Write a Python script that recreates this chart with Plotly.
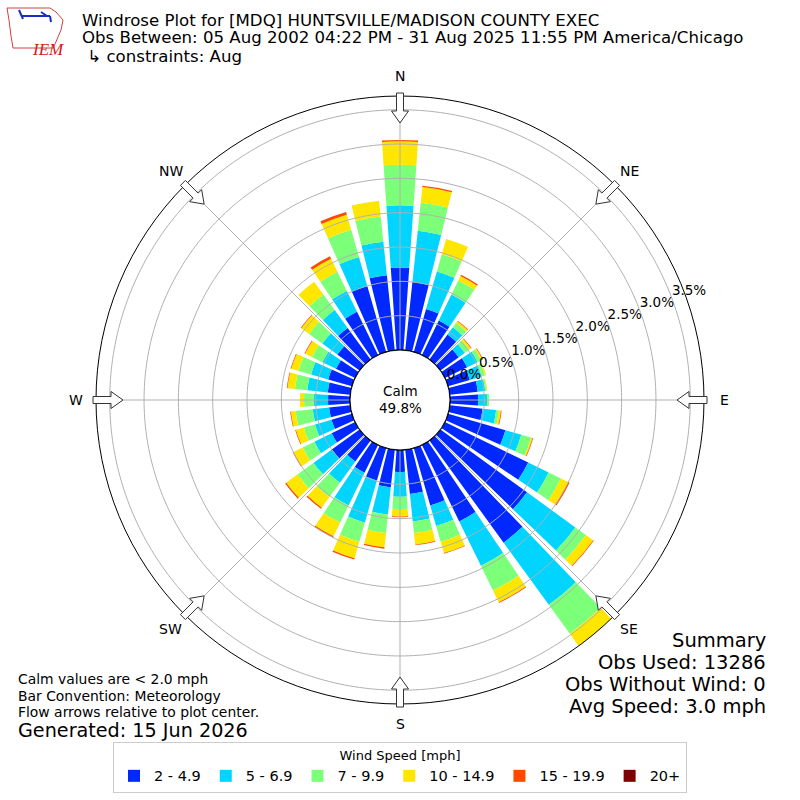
import numpy as np
import plotly.graph_objects as go

ANCHO = 800
ALTO = 800
CX, CY = 400, 400          # centro del grafico polar (px)
R_EXT = 304                # radio del circulo exterior (px)
R_CALMA = 50               # radio del circulo de calma (px)
R_MAX = 3.70               # limite del eje radial (%)

# Direcciones (grados, convencion meteorologica)
DIRECCIONES = list(range(0, 360, 10))

# Frecuencia (%) de cada rango de velocidad por direccion
VEL_2_5 = [1.20, 1.00, 0.65, 0.56, 0.45, 0.33, 0.36, 0.33, 0.41, 0.41,
           0.48, 0.87, 1.35, 1.56, 1.84, 1.24, 0.87, 0.65, 0.32, 0.55,
           0.49, 0.45, 0.38, 0.50, 0.38, 0.31, 0.31, 0.32, 0.33, 0.36,
           0.31, 0.40, 0.57, 0.70, 1.00, 1.10]
VEL_5_7 = [0.91, 0.75, 0.57, 0.42, 0.13, 0.11, 0.17, 0.18, 0.11, 0.13,
           0.20, 0.24, 0.33, 0.87, 1.12, 0.72, 0.31, 0.40, 0.36, 0.40,
           0.64, 0.53, 0.38, 0.33, 0.28, 0.25, 0.24, 0.21, 0.30, 0.26,
           0.22, 0.27, 0.32, 0.34, 0.44, 0.49]
VEL_7_10 = [0.59, 0.41, 0.26, 0.23, 0.08, 0.08, 0.06, 0.05, 0.02, 0.03,
            0.04, 0.15, 0.20, 0.19, 0.52, 0.40, 0.24, 0.17, 0.18, 0.27,
            0.29, 0.28, 0.26, 0.29, 0.19, 0.17, 0.25, 0.14, 0.18, 0.19,
            0.17, 0.24, 0.28, 0.31, 0.41, 0.37]
VEL_10_15 = [0.34, 0.23, 0.23, 0.07, 0.03, 0.03, 0.02, 0.02, 0.01, 0.00,
             0.03, 0.02, 0.12, 0.13, 0.22, 0.19, 0.17, 0.17, 0.11, 0.21,
             0.25, 0.22, 0.19, 0.20, 0.15, 0.12, 0.07, 0.06, 0.11, 0.11,
             0.11, 0.14, 0.23, 0.21, 0.23, 0.23]
VEL_15_20 = [0.02, 0.02, 0.00, 0.02, 0.01, 0.01, 0.01, 0.00, 0.00, 0.00,
             0.01, 0.01, 0.02, 0.01, 0.00, 0.01, 0.01, 0.01, 0.01, 0.02,
             0.02, 0.02, 0.02, 0.02, 0.01, 0.01, 0.01, 0.00, 0.01, 0.01,
             0.01, 0.01, 0.00, 0.04, 0.04, 0.00]
VEL_20 = [0.00, 0.00, 0.00, 0.00, 0.00, 0.00, 0.00, 0.00, 0.00, 0.00,
          0.00, 0.00, 0.00, 0.00, 0.00, 0.00, 0.00, 0.00, 0.00, 0.00,
          0.00, 0.00, 0.00, 0.00, 0.00, 0.00, 0.00, 0.00, 0.00, 0.00,
          0.00, 0.00, 0.00, 0.00, 0.00, 0.00]

RANGOS = ['2 - 4.9', '5 - 6.9', '7 - 9.9', '10 - 14.9', '15 - 19.9', '20+']
COLORES = ['#0028ff', '#00d4ff', '#7cff79', '#ffe600', '#ff4800', '#800000']

RADIAL_TICKS = [0.0, 0.5, 1.0, 1.5, 2.0, 2.5, 3.0, 3.5]
RADIAL_LABELS = ['0.0%', '0.5%', '1.0%', '1.5%', '2.0%', '2.5%', '3.0%', '3.5%']
PUNTOS_CARDINALES = ['N', 'NE', 'E', 'SE', 'S', 'SW', 'W', 'NW']
ANGULOS_CARDINALES = [0, 45, 90, 135, 180, 225, 270, 315]

CALMA = '49.8%'
COLOR_GRILLA = '#b0b0b0'
FUENTE = 'DejaVu Sans'
ANGULO_ETIQUETAS = 69.5          # rumbo de las etiquetas radiales


def px_a_paper(x, y):
    return x / ANCHO, 1 - y / ALTO


fig = go.Figure()

# Barras apiladas
for valores, nombre, color in zip([VEL_2_5, VEL_5_7, VEL_7_10, VEL_10_15, VEL_15_20, VEL_20],
                                  RANGOS, COLORES):
    fig.add_trace(go.Barpolar(
        r=valores,
        theta=DIRECCIONES,
        width=8,
        name=nombre,
        marker=dict(color=color, line=dict(width=0)),
        hoverinfo='skip'
    ))

# Grilla por encima de las barras
circulo = np.arange(0, 361, 1)
for v in RADIAL_TICKS[1:]:
    fig.add_trace(go.Scatterpolar(
        r=[v] * len(circulo), theta=circulo, mode='lines',
        line=dict(color=COLOR_GRILLA, width=1),
        showlegend=False, hoverinfo='skip'
    ))
for a in ANGULOS_CARDINALES:
    fig.add_trace(go.Scatterpolar(
        r=[0, R_MAX], theta=[a, a], mode='lines',
        line=dict(color=COLOR_GRILLA, width=1),
        showlegend=False, hoverinfo='skip'
    ))

# Circulo de calma
fig.add_trace(go.Scatterpolar(
    r=[0] * len(circulo), theta=circulo, mode='lines',
    line=dict(color='black', width=1.2),
    showlegend=False, hoverinfo='skip'
))

# Etiquetas radiales
fig.add_trace(go.Scatterpolar(
    r=RADIAL_TICKS,
    theta=[ANGULO_ETIQUETAS] * len(RADIAL_TICKS), mode='text',
    text=RADIAL_LABELS, textposition='top right',
    textfont=dict(size=13.5, color='black', family=FUENTE),
    showlegend=False, hoverinfo='skip', cliponaxis=False
))

fig.update_layout(
    width=ANCHO, height=ALTO,
    margin=dict(l=0, r=0, t=0, b=0),
    paper_bgcolor='white',
    font=dict(family=FUENTE, color='black', size=13),
    polar=dict(
        domain=dict(x=[(CX - R_EXT) / ANCHO, (CX + R_EXT) / ANCHO],
                    y=[(CY - R_EXT) / ALTO, (CY + R_EXT) / ALTO]),
        hole=R_CALMA / R_EXT,
        bgcolor='white',
        barmode='stack',
        radialaxis=dict(range=[0, R_MAX], showgrid=False, showline=False,
                        showticklabels=False, ticks=''),
        angularaxis=dict(direction='clockwise', rotation=90, showgrid=False,
                         showticklabels=False, ticks='', showline=True,
                         linecolor='black', linewidth=1)
    ),
    legend=dict(
        orientation='h', x=0.5, xanchor='center', y=1 - 742 / ALTO, yanchor='top',
        bgcolor='white', bordercolor='#cccccc', borderwidth=1,
        title=dict(text='Wind Speed [mph]', side='top center', font=dict(size=13)),
        font=dict(size=14.5), itemwidth=30
    )
)

anotaciones = []
formas = []

# Puntos cardinales y flechas de flujo
for nombre, a in zip(PUNTOS_CARDINALES, ANGULOS_CARDINALES):
    rad = np.radians(a)
    dx, dy = np.sin(rad), -np.cos(rad)
    x, y = px_a_paper(CX + 324 * dx, CY + 324 * dy)
    anotaciones.append(dict(x=x, y=y, xref='paper', yref='paper', text=nombre,
                            showarrow=False, xanchor='center', yanchor='middle',
                            font=dict(size=14)))
    px_, py_ = np.cos(rad), np.sin(rad)
    cola = 307
    contorno = [(0, -3.5), (18, -3.5), (18, -8.5), (30, 0), (18, 8.5), (18, 3.5), (0, 3.5)]
    pts = []
    for u, v in contorno:
        xx = CX + (cola - u) * dx + v * px_
        yy = CY + (cola - u) * dy + v * py_
        pts.append(px_a_paper(xx, yy))
    path = 'M ' + ' L '.join(f'{p[0]:.5f},{p[1]:.5f}' for p in pts) + ' Z'
    formas.append(dict(type='path', path=path, xref='paper', yref='paper',
                       fillcolor='white', line=dict(color='#333333', width=1)))

# Texto de calma
anotaciones.append(dict(x=0.5, y=px_a_paper(0, 391)[1], xref='paper', yref='paper',
                        text='Calm', showarrow=False, font=dict(size=13.5)))
anotaciones.append(dict(x=0.5, y=px_a_paper(0, 408)[1], xref='paper', yref='paper',
                        text=CALMA, showarrow=False, font=dict(size=13.5)))

# Titulo
titulos = ['Windrose Plot for [MDQ] HUNTSVILLE/MADISON COUNTY EXEC',
           'Obs Between: 05 Aug 2002 04:22 PM - 31 Aug 2025 11:55 PM America/Chicago',
           ' ↳ constraints: Aug']
for i, t in enumerate(titulos):
    anotaciones.append(dict(x=80 / ANCHO, y=px_a_paper(0, 20 + 18 * i)[1], xref='paper',
                            yref='paper', text=t, showarrow=False, xanchor='left',
                            yanchor='middle', font=dict(size=16.6)))

# Notas abajo a la izquierda
notas = ['Calm values are < 2.0 mph', 'Bar Convention: Meteorology',
         'Flow arrows relative to plot center.']
for i, t in enumerate(notas):
    anotaciones.append(dict(x=16 / ANCHO, y=px_a_paper(0, 679 + 16.5 * i)[1], xref='paper',
                            yref='paper', text=t, showarrow=False, xanchor='left',
                            yanchor='middle', font=dict(size=13.9)))
anotaciones.append(dict(x=16 / ANCHO, y=px_a_paper(0, 730)[1], xref='paper', yref='paper',
                        text='Generated: 15 Jun 2026', showarrow=False, xanchor='left',
                        yanchor='middle', font=dict(size=19.2)))

# Resumen abajo a la derecha
resumen = ['Summary', 'Obs Used: 13286', 'Obs Without Wind: 0', 'Avg Speed: 3.0 mph']
for i, t in enumerate(resumen):
    anotaciones.append(dict(x=768 / ANCHO, y=px_a_paper(0, 640 + 22 * i)[1], xref='paper',
                            yref='paper', text=t, showarrow=False, xanchor='right',
                            yanchor='middle', font=dict(size=19.5)))

# Logo IEM aproximado
contorno_iowa = [(7, 8), (50, 8), (56, 12), (63, 20), (61, 30), (58, 37), (55, 44),
                 (53, 48), (13, 48), (11, 36), (9, 20)]
path = 'M ' + ' L '.join('{:.5f},{:.5f}'.format(*px_a_paper(x, y)) for x, y in contorno_iowa) + ' Z'
formas.append(dict(type='path', path=path, xref='paper', yref='paper',
                   line=dict(color='#d04040', width=1)))
simbolo = [((22, 16), (50, 16)), ((19, 10), (23, 19)), ((41, 12), (47, 16)),
           ((50, 16), (51, 22))]
for (xa, ya), (xb, yb) in simbolo:
    x0, y0 = px_a_paper(xa, ya)
    x1, y1 = px_a_paper(xb, yb)
    formas.append(dict(type='line', x0=x0, y0=y0, x1=x1, y1=y1, xref='paper', yref='paper',
                       line=dict(color='#1a2fbf', width=2)))
anotaciones.append(dict(x=30 / ANCHO, y=px_a_paper(0, 38)[1], xref='paper', yref='paper',
                        text='<i>IEM</i>', showarrow=False,
                        font=dict(size=17, color='#d02020', family='Liberation Serif')))

fig.update_layout(annotations=anotaciones, shapes=formas)

# quitar el margen del body para que la figura ocupe la ventana completa
fig.write_html('out.html', config={'displayModeBar': False},
               post_script="document.body.style.margin='0px';document.body.style.overflow='hidden';")
